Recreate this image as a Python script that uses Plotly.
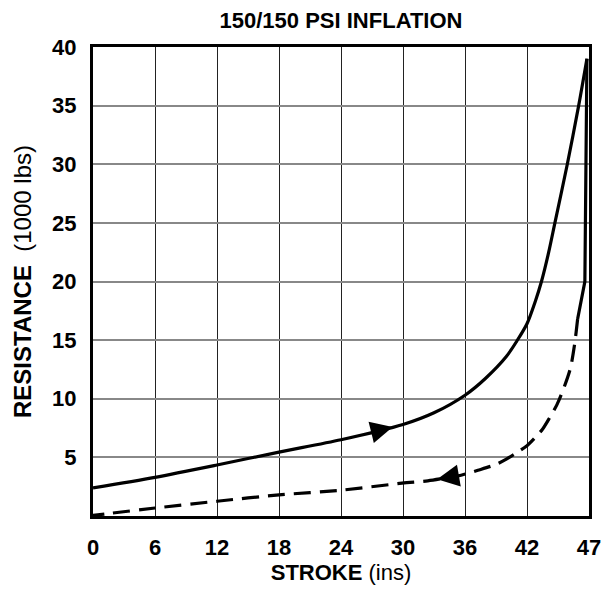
import numpy as np
import plotly.graph_objects as go

# ---- data (chart units: x = stroke position, y = resistance in 1000 lbs) ----
load_x = [0, 6, 12, 18, 24, 30, 33, 36, 38, 40, 41, 42, 42.8, 43.4, 44.1, 44.7, 45.9, 47.0, 47.8]
load_y = [2.4, 3.3, 4.35, 5.45, 6.5, 7.8, 8.8, 10.3, 11.75, 13.6, 14.9, 16.4, 18.3, 20, 22.5, 25, 30, 35, 39]

drop_x = [47.8, 47.7, 47.6, 46.9]
drop_y = [39, 30, 20, 16.8]

unload_x = [46.9, 46.6, 46.2, 45.6, 44.9, 44.2, 43.5, 42.9, 42.0, 41.0, 40.0, 39.0, 37.25, 35.7, 34.5, 32.4, 29.9, 24, 18, 12, 6, 0]
unload_y = [16.8, 14.6, 12.6, 11.0, 9.5, 8.4, 7.4, 6.8, 6.0, 5.4, 4.85, 4.4, 3.9, 3.5, 3.3, 3.0, 2.8, 2.2, 1.8, 1.26, 0.68, 0.05]

arrow_load_x = (27.0, 29.0)     # tail, tip
arrow_unload_x = (35.4, 33.3)   # tail, tip

x_tickvals = [0, 6, 12, 18, 24, 30, 36, 42, 48]
x_ticktext = ["0", "6", "12", "18", "24", "30", "36", "42", "47"]
y_tickvals = [5, 10, 15, 20, 25, 30, 35, 40]
y_ticktext = ["5", "10", "15", "20", "25", "30", "35", "40"]

FONT = "Liberation Sans"

fig = go.Figure()
fig.add_trace(go.Scatter(x=load_x, y=load_y, mode="lines",
                         line=dict(color="black", width=3.2, shape="spline", smoothing=0.8),
                         showlegend=False, hoverinfo="skip"))
fig.add_trace(go.Scatter(x=drop_x, y=drop_y, mode="lines",
                         line=dict(color="black", width=3.2),
                         showlegend=False, hoverinfo="skip"))
fig.add_trace(go.Scatter(x=unload_x, y=unload_y, mode="lines",
                         line=dict(color="black", width=3.2, dash="17px,9px", shape="spline", smoothing=0.8),
                         showlegend=False, hoverinfo="skip"))

ux = np.array(unload_x)[::-1]
uy = np.array(unload_y)[::-1]
arrows = [
    (arrow_load_x, np.interp(arrow_load_x[0], load_x, load_y), np.interp(arrow_load_x[1], load_x, load_y)),
    (arrow_unload_x, np.interp(arrow_unload_x[0], ux, uy), np.interp(arrow_unload_x[1], ux, uy)),
]
for (xs, ytail, ytip) in arrows:
    fig.add_annotation(x=xs[1], y=float(ytip), ax=xs[0], ay=float(ytail),
                       xref="x", yref="y", axref="x", ayref="y",
                       text="", showarrow=True, arrowhead=2, arrowsize=1.7,
                       arrowwidth=2.6, arrowcolor="black", standoff=0, startstandoff=0)

fig.update_layout(
    width=602, height=591,
    margin=dict(l=93, r=13, t=47, b=75, autoexpand=False),
    paper_bgcolor="white", plot_bgcolor="white",
    font=dict(family=FONT, color="black"),
    title=dict(text="<b>150/150 PSI INFLATION</b>", x=0.5, xref="paper",
               y=1 - 20 / 591, yanchor="middle", xanchor="center",
               font=dict(family=FONT, size=22, color="black")),
)
fig.update_xaxes(range=[0, 48], tickvals=x_tickvals, ticktext=x_ticktext,
                 showgrid=True, gridcolor="#222", gridwidth=1.3,
                 showline=True, linecolor="black", linewidth=3, mirror=True,
                 zeroline=False, ticks="", ticklabelstandoff=10, automargin=False,
                 tickfont=dict(family=FONT, size=22, weight="bold", color="black"),
                 title=dict(text="<b>STROKE</b> (ins)", standoff=4,
                            font=dict(family=FONT, size=22, color="black")))
fig.update_yaxes(range=[0, 40], tickvals=y_tickvals, ticktext=y_ticktext,
                 showgrid=True, gridcolor="#888", gridwidth=1.6,
                 showline=True, linecolor="black", linewidth=3, mirror=True,
                 zeroline=False, ticks="", ticklabelstandoff=9, automargin=False,
                 tickfont=dict(family=FONT, size=22, weight="bold", color="black"),
                 title=dict(text="<b>RESISTANCE</b>&nbsp;&nbsp;(1000 lbs)", standoff=14,
                            font=dict(family=FONT, size=24, color="black")))

fig.write_html("out.html", config={"displayModeBar": False},
               post_script="document.body.style.margin='0';document.body.style.overflow='hidden';")
